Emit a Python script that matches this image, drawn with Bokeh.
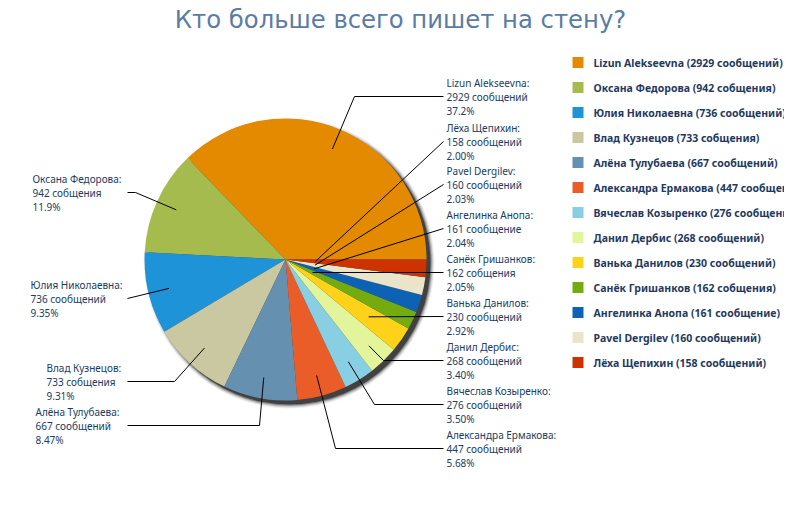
from bokeh.plotting import figure
from bokeh.models import Range1d, ColumnDataSource
from bokeh.embed import file_html
from bokeh.resources import INLINE
from bokeh.core.properties import value
import numpy as np

# ---------------- data ----------------
title = "Кто больше всего пишет на стену?"
names = ["Lizun Alekseevna", "Оксана Федорова", "Юлия Николаевна", "Влад Кузнецов",
         "Алёна Тулубаева", "Александра Ермакова", "Вячеслав Козыренко", "Данил Дербис",
         "Ванька Данилов", "Санёк Гришанков", "Ангелинка Анопа", "Pavel Dergilev",
         "Лёха Щепихин"]
counts = [2929, 942, 736, 733, 667, 447, 276, 268, 230, 162, 161, 160, 158]
count_words = ["сообщений", "собщения", "сообщений", "собщения", "сообщений", "сообщений",
               "сообщений", "сообщений", "сообщений", "собщения", "сообщение", "сообщений",
               "сообщений"]
percent_labels = ["37.2%", "11.9%", "9.35%", "9.31%", "8.47%", "5.68%", "3.50%", "3.40%",
                  "2.92%", "2.05%", "2.04%", "2.03%", "2.00%"]
colors = ["#E38A00", "#A5BB4E", "#1E93D8", "#C9C8A0", "#6690B0", "#EB5D28", "#88CFE3",
          "#E2F59B", "#FFD21A", "#74AC10", "#0D62B4", "#EAE5C9", "#CC3300"]

# ---------------- layout (page pixels) ----------------
def Y(py):
    return 520 - py

CX, CY, R = 285, Y(259), 141
# label placement: (text x, middle-line page y, side, elbow x or None, tip radius)
label_layout = [
    (446, 96, "r", 354, 120),
    (32, 192, "l", 135, 120),
    (30, 298, "l", None, 120),
    (46, 381, "l", 174, 120),
    (35, 425, "l", 259, 120),
    (446, 448, "r", 335, 120),
    (446, 404, "r", 374, 120),
    (446, 360, "r", 383, 120),
    (446, 316, "r", None, 101),
    (446, 272, "r", None, 30),
    (446, 228, "r", None, 30),
    (446, 184, "r", None, 30),
    (446, 141, "r", None, 30),
]

p = figure(width=784, height=504, x_range=Range1d(0, 784), y_range=Range1d(16, 520),
           output_backend="svg", toolbar_location=None, min_border=0,
           x_axis_type=None, y_axis_type=None)
p.grid.visible = False
p.outline_line_color = None
p.background_fill_color = "white"
p.border_fill_color = "white"

# title
p.text(x=[400], y=[Y(19)], text=[title], text_align="center", text_baseline="middle",
       text_font=value("DejaVu Sans"), text_font_size="24.3px", text_color="#5B7CA4")

# shadow
for k, a in [(5, 0.06), (4, 0.1), (3, 0.16), (2, 0.28), (1, 0.5)]:
    p.circle(x=[CX + 4], y=[CY - 4], radius=R + k - 1, fill_color="black", fill_alpha=a,
             line_color=None)

# pie
total = sum(counts)
fr = np.array(counts) / total
ends = np.cumsum(fr) * 2 * np.pi
starts = ends - fr * 2 * np.pi
src = ColumnDataSource(dict(start=starts, end=ends, color=colors))
p.wedge(x=CX, y=CY, radius=R, start_angle="start", end_angle="end",
        fill_color="color", line_color=None, direction="anticlock", source=src)

# labels and leaders
mids = (starts + ends) / 2
lab_color = "#203C62"
for i, (lx, ly, side, ex, tr) in enumerate(label_layout):
    tx = CX + tr * np.cos(mids[i])
    ty = CY + tr * np.sin(mids[i])
    ax = 443 if side == "r" else 127
    xs = [ax]
    ys = [Y(ly)]
    if ex is not None:
        xs.append(ex)
        ys.append(Y(ly))
    xs.append(tx)
    ys.append(ty)
    p.line(x=xs, y=ys, line_color="black", line_width=1)
    lines = [names[i] + ":", f"{counts[i]} {count_words[i]}", percent_labels[i]]
    p.text(x=[lx] * 3, y=[Y(ly - 14), Y(ly), Y(ly + 14)], text=lines,
           text_align="left", text_baseline="middle", text_font=value("Noto Sans"),
           text_font_size="10px", text_color=lab_color)

# legend
leg_y = [Y(62 + 25 * i) for i in range(len(names))]
p.rect(x=[577.5] * len(names), y=leg_y, width=11, height=11, fill_color=colors, line_color=None)
p.text(x=[593] * len(names), y=leg_y,
       text=[f"{n} ({c} {w})" for n, c, w in zip(names, counts, count_words)],
       text_align="left", text_baseline="middle", text_font=value("Noto Sans"),
       text_font_style="bold", text_font_size="10.5px", text_color="#1F3A5F")

open("out.html", "w").write(file_html(p, INLINE))
